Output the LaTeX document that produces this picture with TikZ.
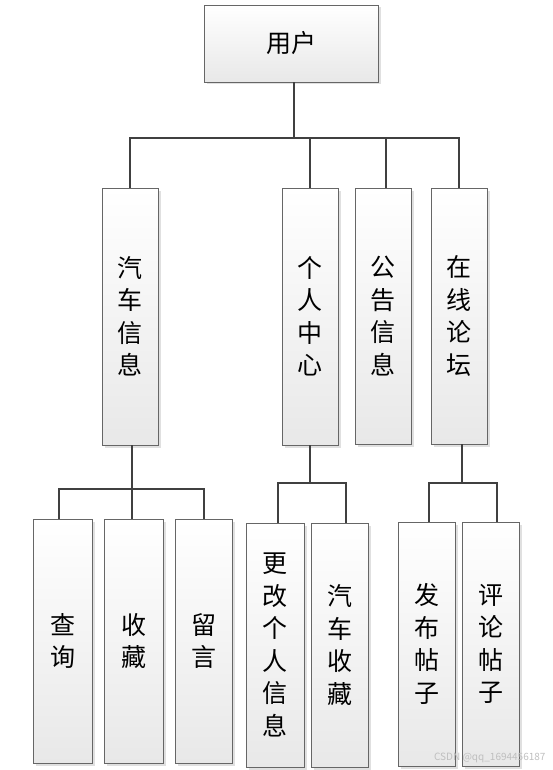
\documentclass[tikz,border=0pt]{standalone}
\usepackage{fontspec}
\setmainfont{Noto Sans CJK SC}
\usetikzlibrary{shadows}

\begin{document}
\begin{tikzpicture}[x=1pt, y=-1pt,
    box/.style={draw=black!60, line width=0.8pt, inner sep=0, align=center,
        top color=white, bottom color=black!9,
        drop shadow={shadow xshift=2.5pt, shadow yshift=-2.5pt, fill=black!12, opacity=1},
        font=\fontsize{25}{32.5}\selectfont},
    link/.style={draw=black!75, line width=2pt}
]
\useasboundingbox (0,0) rectangle (552,770);

% Top
\node[box, minimum width=174pt, minimum height=77pt] (user) at (291, 43.5) {用户};

% Second level
\node[box, minimum width=56pt, minimum height=257pt] (carinfo) at (130, 316.5) {汽\\车\\信\\息};
\node[box, minimum width=56pt, minimum height=257pt] (center)  at (310, 316.5) {个\\人\\中\\心};
\node[box, minimum width=56pt, minimum height=256pt] (notice)  at (383, 316)   {公\\告\\信\\息};
\node[box, minimum width=56pt, minimum height=256pt] (forum)   at (459, 316)   {在\\线\\论\\坛};

% Third level
\node[box, minimum width=59pt, minimum height=244pt] (query)      at (62.5, 641)  {查\\询};
\node[box, minimum width=59pt, minimum height=244pt] (collect)    at (133.5, 641) {收\\藏};
\node[box, minimum width=57pt, minimum height=244pt] (message)    at (203.5, 641) {留\\言};
\node[box, minimum width=58pt, minimum height=244pt] (edit)       at (275, 645)   {更\\改\\个\\人\\信\\息};
\node[box, minimum width=57pt, minimum height=244pt] (carcollect) at (339.5, 645) {汽\\车\\收\\藏};
\node[box, minimum width=57pt, minimum height=244pt] (post)       at (426.5, 644) {发\\布\\帖\\子};
\node[box, minimum width=57pt, minimum height=244pt] (comment)    at (490.5, 644) {评\\论\\帖\\子};

% Links
\draw[link] ([xshift=3pt]user.south) -- ++(0,56);
\draw[link] (carinfo.north) -- ++(0,-50) -| (forum.north);
\draw[link] (center.north) -- ++(0,-50);
\draw[link] ([xshift=3pt]notice.north) -- ++(0,-50);

\draw[link] ([xshift=-1.5pt]collect.north) -- ([xshift=-1.5pt]collect.north |- carinfo.south);
\draw[link] ([xshift=-3.5pt]query.north) -- ++(0,-30) -| (message.north);

\draw[link] (center.south) -- ++(0,38);
\draw[link] ([xshift=3pt]edit.north) -- ++(0,-40) -| ([xshift=6.5pt]carcollect.north);

\draw[link] ([xshift=3pt]forum.south) -- ++(0,39);
\draw[link] ([xshift=2.5pt]post.north) -- ++(0,-39) -| ([xshift=6.5pt]comment.north);

% Watermark
\node[text=black!25, font=\fontsize{10}{12}\selectfont, anchor=east] (mark) at (549, 758) {CSDN @qq\_1694456187};
\end{tikzpicture}
\end{document}
